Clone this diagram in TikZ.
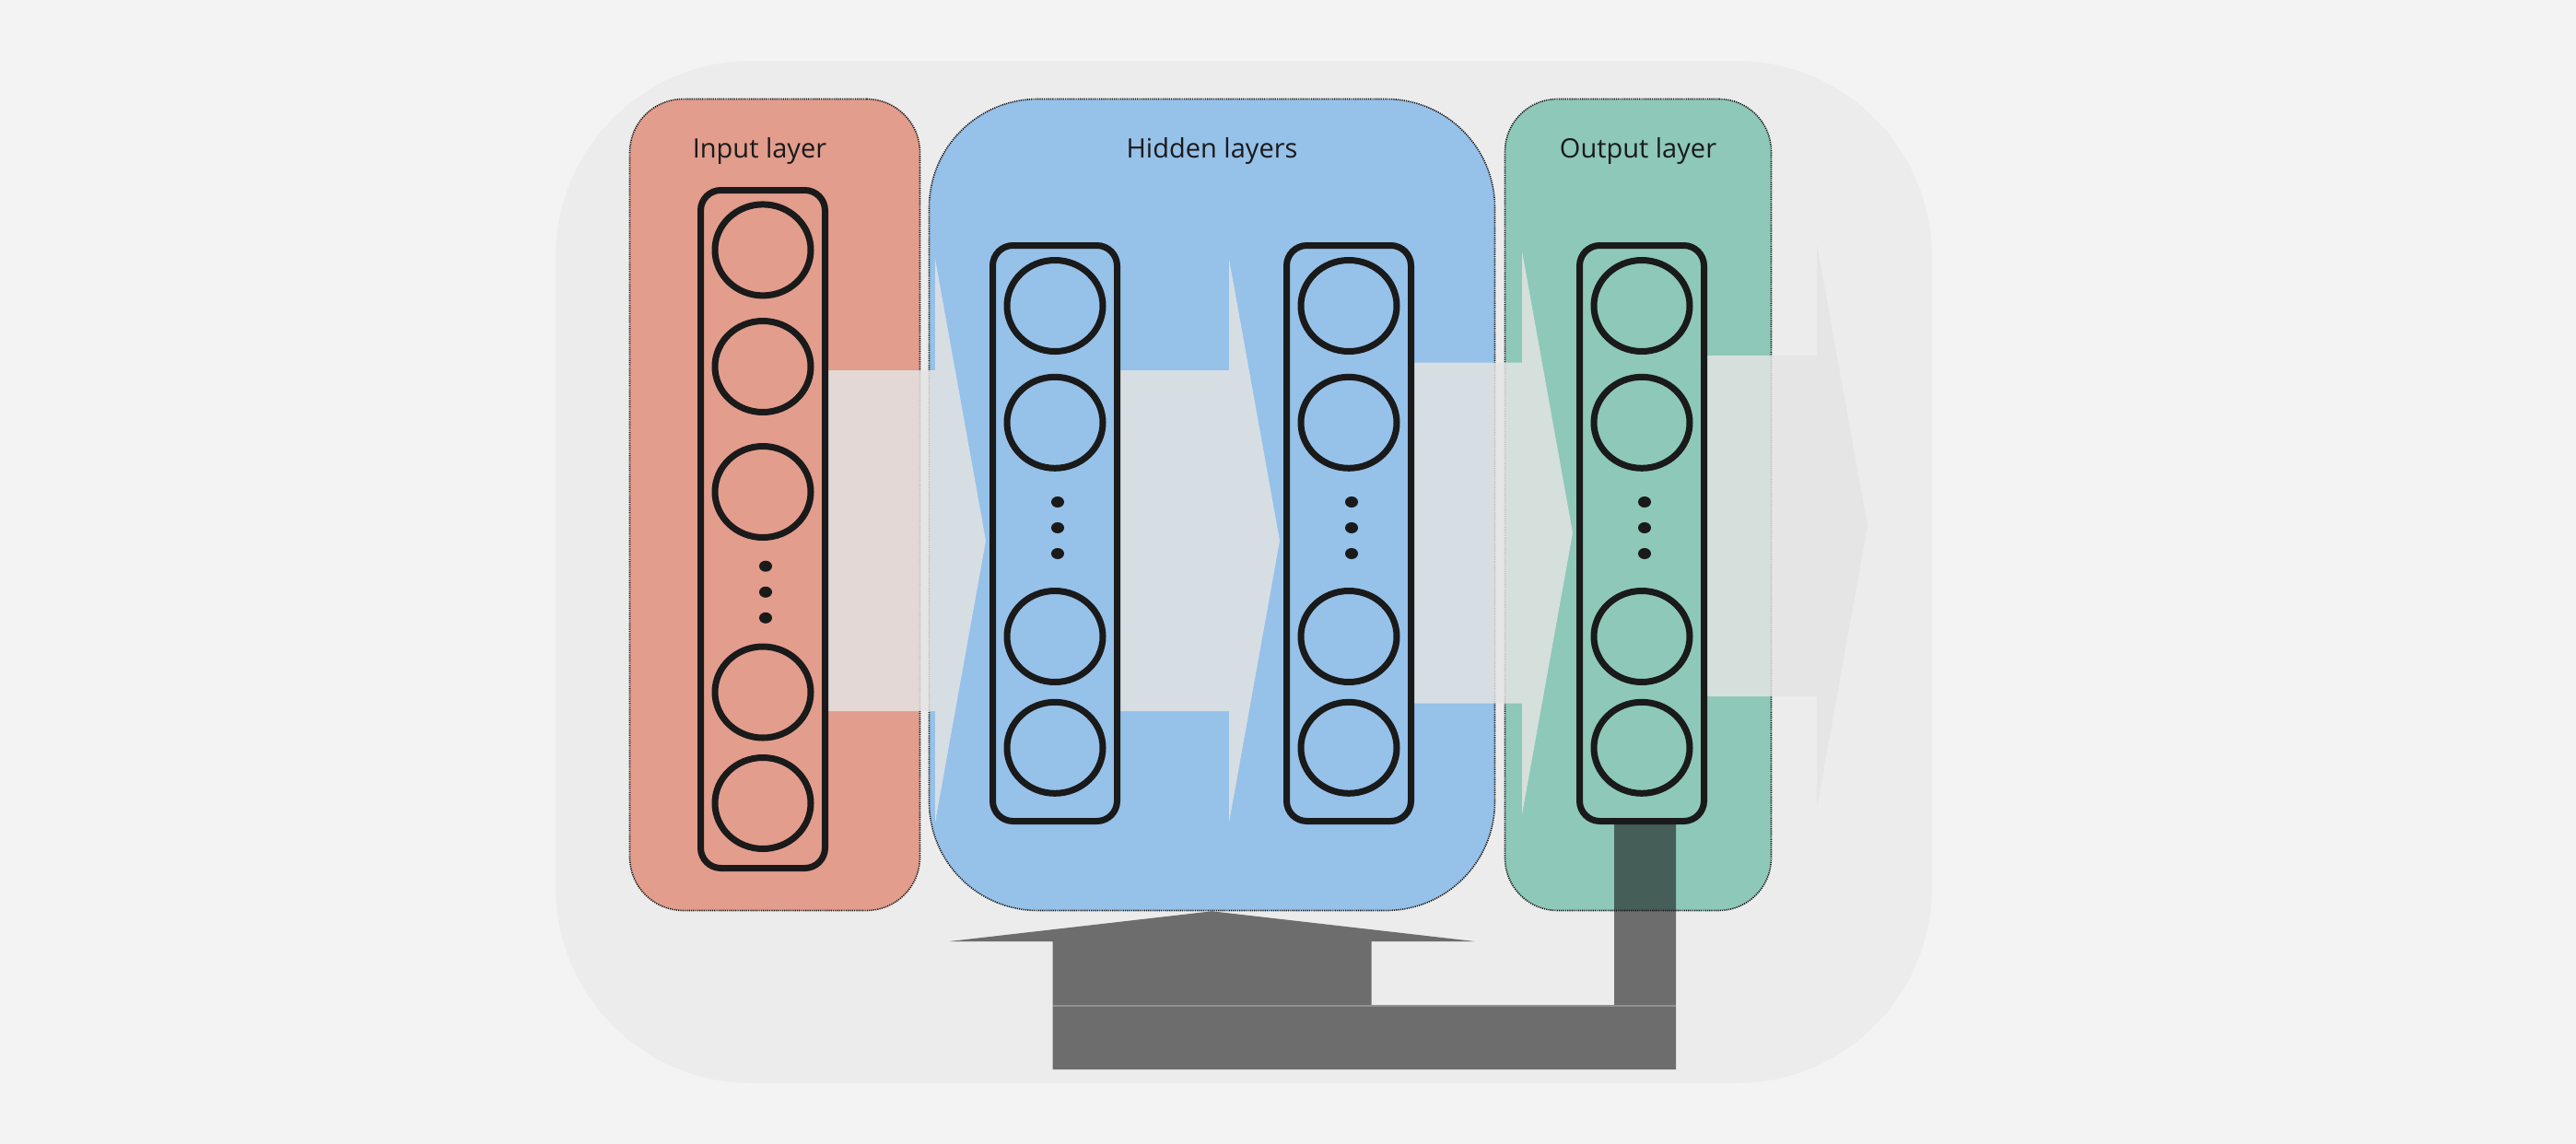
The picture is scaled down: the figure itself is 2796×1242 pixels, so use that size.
\documentclass[tikz,border=0pt]{standalone}
\usepackage{fontspec}
\setmainfont{Open Sans}
\usetikzlibrary{shapes.geometric,calc}
\definecolor{pagebg}{RGB}{243,243,243}
\definecolor{panelbg}{RGB}{236,236,236}
\definecolor{inred}{RGB}{226,157,141}
\definecolor{hidblue}{RGB}{150,193,233}
\definecolor{outgreen}{RGB}{141,200,185}
\definecolor{ink}{RGB}{26,26,26}
\definecolor{fwdgray}{RGB}{228,228,228}
\definecolor{fbdark}{RGB}{17,17,17}
\definecolor{seamgray}{RGB}{145,145,145}
\pgfdeclarelayer{back}
\pgfdeclarelayer{flow}
\pgfsetlayers{back,flow,main}
\tikzset{
 layerbox/.style={rectangle, draw=ink, line width=0.8pt, dash pattern=on 0.6pt off 0.55pt, inner sep=0pt, minimum height=440.5pt},
 stackbox/.style={rectangle, draw=ink, line width=3.5pt, rounded corners=11pt, inner sep=0pt, minimum width=67.5pt},
 neuron/.style={ellipse, draw=ink, line width=3.5pt, inner sep=0pt, minimum width=52pt, minimum height=49.5pt},
 dotnode/.style={ellipse, fill=ink, inner sep=0pt, minimum width=7pt, minimum height=6pt},
 fwd/.style={fill=fwdgray, fill opacity=0.83},
 feedback/.style={fill=fbdark, fill opacity=0.575},
 seam/.style={draw=seamgray, line width=0.6pt},
 layerlabel/.style={text=ink, font=\fontsize{14.5}{17}\selectfont, anchor=base, inner sep=0pt},
}
\newcommand\fwdarrow[3]{%
 \fill[fwd] let \p1=(#1.east), \p2=(#2) in
  (\x1,{-(#3-185)*0.5pt}) -- ({\x2-59*0.5pt},{-(#3-185)*0.5pt}) --
  ({\x2-59*0.5pt},{-(#3-306)*0.5pt}) -- ({\x2-4*0.5pt},{-(#3)*0.5pt}) --
  ({\x2-59*0.5pt},{-(#3+306)*0.5pt}) -- ({\x2-59*0.5pt},{-(#3+185)*0.5pt}) --
  (\x1,{-(#3+185)*0.5pt}) -- cycle;}
\begin{document}
\begin{tikzpicture}[x=0.5pt,y=-0.5pt]
\useasboundingbox (0,0) rectangle (2796,1242);
\begin{pgfonlayer}{back}
\fill[pagebg] (0,0) rectangle (2796,1242);
\node[rectangle, fill=panelbg, rounded corners=106.5pt, minimum width=747pt, minimum height=555pt, inner sep=0pt] (panel) at (1350,621) {};
\node[layerbox, fill=inred, minimum width=157.5pt, rounded corners=29pt] (inbox) at (841,548) {};
\node[layerbox, fill=hidblue, minimum width=307pt, rounded corners=59pt] (hidbox) at (1315.5,548) {};
\node[layerbox, fill=outgreen, minimum width=144.5pt, rounded corners=28.5pt] (outbox) at (1778,548) {};
\end{pgfonlayer}

\node[layerlabel] (tin) at (824.5,171) {Input layer};
\node[layerlabel] (thid) at (1315.5,171) {Hidden layers};
\node[layerlabel] (tout) at (1778,171) {Output layer};

% stacks
\node[stackbox, fill=inred, minimum height=368pt] (sin) at (828,574.5) {};
\node[stackbox, fill=hidblue, minimum height=312.5pt] (sh1) at (1145,579) {};
\node[stackbox, fill=hidblue, minimum height=312.5pt] (sh2) at (1464,579) {};
\node[stackbox, fill=outgreen, minimum height=312.5pt] (sout) at (1782,579) {};

% neurons
\foreach \yy [count=\i] in {271.4,398,534,751.5,872}
  \node[neuron] (in\i) at (828,\yy) {};
\foreach \yy [count=\i] in {614.7,642.8,670.8}
  \node[dotnode] (ind\i) at (831,\yy) {};
\foreach \cx/\nm in {1145/ha,1464/hb,1782/ou}{
  \foreach \yy [count=\i] in {332,458.8,691,811.8}
    \node[neuron] (\nm\i) at (\cx,\yy) {};
  \foreach \yy [count=\i] in {545,573,601}
    \node[dotnode] (\nm d\i) at (\cx+3,\yy) {};
}

\coordinate (flowend) at (2031,571);
\begin{pgfonlayer}{flow}
\fwdarrow{sin}{sh1.west}{587}
\fwdarrow{sh1}{sh2.west}{587}
\fwdarrow{sh2}{sout.west}{578.5}
\fwdarrow{sout}{flowend}{571}
\fill[feedback] let \p1=(sout.south), \p2=(hidbox.south) in
 ({\x1-30*0.5pt},\y1) -- ({\x1-30*0.5pt},{-1092*0.5pt}) --
 ({\x2+173*0.5pt},{-1092*0.5pt}) -- ({\x2+173*0.5pt},{-1022*0.5pt}) --
 ({\x2+285*0.5pt},{-1022*0.5pt}) -- (\x2,\y2) --
 ({\x2-285*0.5pt},{-1022*0.5pt}) -- ({\x2-173*0.5pt},{-1022*0.5pt}) --
 ({\x2-173*0.5pt},{-1161*0.5pt}) -- ({\x1+37*0.5pt},{-1161*0.5pt}) --
 ({\x1+37*0.5pt},\y1) -- cycle;
\draw[seam] let \p1=(sout.south), \p2=(hidbox.south) in
 ({\x2-173*0.5pt},{-1092*0.5pt}) -- ({\x1+37*0.5pt},{-1092*0.5pt});
\end{pgfonlayer}
\end{tikzpicture}
\end{document}
